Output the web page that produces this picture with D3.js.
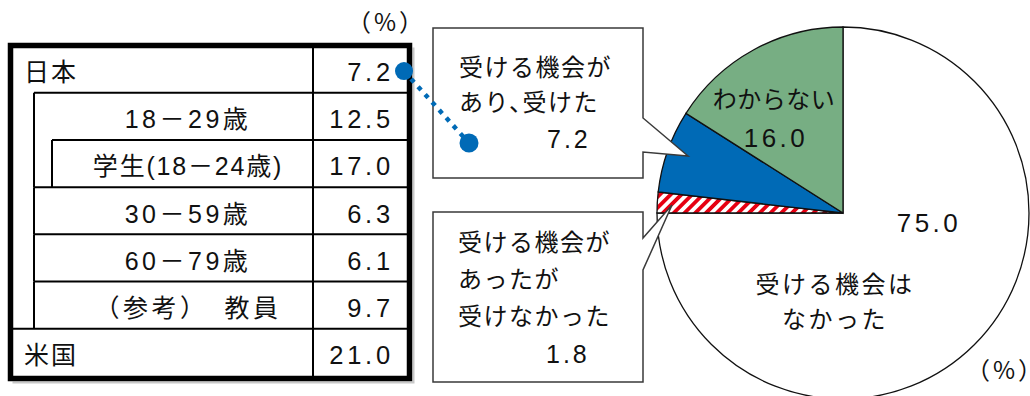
<!DOCTYPE html>
<html><head><meta charset="utf-8">
<script src="https://cdn.jsdelivr.net/npm/d3@7"></script>
<style>body{margin:0;background:#fff} svg{display:block}</style>
</head><body>
<script>
// ---- data ----
const rowLabels = ["日本", "18－29歳", "学生(18－24歳)", "30－59歳", "60－79歳", "（参考）　教員", "米国"];
const rowLevels = [0, 1, 2, 1, 1, 1, 0];
const rowValues = [7.2, 12.5, 17.0, 6.3, 6.1, 9.7, 21.0];
const pieCategories = ["受ける機会はなかった", "受ける機会があったが受けなかった", "受ける機会があり、受けた", "わからない"];
const pieValues = [75.0, 1.8, 7.2, 16.0];
const unitLabel = "（%）";

// ---- drawing ----
const W = 1030, H = 396;
const JP = "'Noto Sans CJK JP', sans-serif";
const NUM = "'Liberation Sans', 'Noto Sans CJK JP', sans-serif";
const fmt = d3.format(".1f");

const svg = d3.select("body").append("svg").attr("width", W).attr("height", H);
const defs = svg.append("defs");
const pat = defs.append("pattern").attr("id", "hatch").attr("patternUnits", "userSpaceOnUse")
  .attr("width", 7.6).attr("height", 7.6).attr("patternTransform", "rotate(45)");
pat.append("rect").attr("width", 7.6).attr("height", 7.6).attr("fill", "#fff");
pat.append("rect").attr("width", 3.8).attr("height", 7.6).attr("fill", "#E60012");

// Table
const tL = 10.5, tR = 409.5, tT = 45.5, tB = 378.5, divX = 313;
const indentX = [tL, 34, 52];
const y = d3.scaleBand().domain(d3.range(rowLabels.length)).range([tT, 376]);
const tbl = svg.append("g");

// light shadow
tbl.append("path").attr("d", `M${tL + 2},${tB + 4} H${tR + 4} V${tT + 2}`)
  .attr("fill", "none").attr("stroke", "#c8c8c8").attr("stroke-width", 2);

rowLabels.forEach((lab, i) => {
  const yt = y(i), yb = yt + y.bandwidth();
  if (i > 0) {
    tbl.append("line").attr("x1", indentX[rowLevels[i]]).attr("x2", tR)
      .attr("y1", yt).attr("y2", yt).attr("stroke", "#000").attr("stroke-width", 2);
  }
  for (let l = 1; l <= rowLevels[i]; l++) {
    tbl.append("line").attr("x1", indentX[l]).attr("x2", indentX[l])
      .attr("y1", yt).attr("y2", yb).attr("stroke", "#000").attr("stroke-width", 2);
  }
  const base = yt + 35.5;
  const ls = rowLevels[i] === 0 ? 2 : (rowLevels[i] === 2 ? 1.8 : 3.5);
  const t = tbl.append("text").attr("y", base).attr("font-family", NUM).attr("font-size", 25)
    .attr("letter-spacing", ls).attr("fill", "#111");
  if (rowLevels[i] === 0) t.attr("x", 24).text(lab);
  else t.attr("x", 188).attr("text-anchor", "middle").text(lab);
  tbl.append("text").attr("x", 394).attr("y", base).attr("text-anchor", "end")
    .attr("font-family", NUM).attr("font-size", 25.5).attr("letter-spacing", 3.8).attr("fill", "#111")
    .text(fmt(rowValues[i]));
});
tbl.append("line").attr("x1", divX).attr("x2", divX).attr("y1", tT).attr("y2", tB)
  .attr("stroke", "#000").attr("stroke-width", 2);
tbl.append("rect").attr("x", tL).attr("y", tT).attr("width", tR - tL).attr("height", tB - tT)
  .attr("fill", "none").attr("stroke", "#000").attr("stroke-width", 5.5);

function unit(x, yb) {
  const t = svg.append("text").attr("x", x).attr("y", yb).attr("text-anchor", "end")
    .attr("font-family", JP).attr("font-size", 24)
    .style("font-feature-settings", "'halt'").attr("fill", "#111");
  t.append("tspan").attr("letter-spacing", 3).text(unitLabel.slice(0, -1));
  t.append("tspan").attr("letter-spacing", 0).text(unitLabel.slice(-1));
}
unit(411, 31);

// Pie
const cx = 843, cy = 213, R = 186;
const pie = d3.pie().sort(null).value(d => d)(pieValues);
const arc = d3.arc().innerRadius(0).outerRadius(R);
const fills = ["#ffffff", "url(#hatch)", "#006AB6", "#77AE83"];
const pg = svg.append("g").attr("transform", `translate(${cx},${cy})`);
pg.selectAll("path").data(pie).join("path").attr("d", arc)
  .attr("fill", (d, i) => fills[i]).attr("stroke", "#111").attr("stroke-width", 1.3);

function lines(g, arr, x, y0, dy, opts) {
  arr.forEach((s, k) => {
    g.append("text").attr("x", x).attr("y", y0 + k * dy).attr("font-family", opts.ff || JP)
      .attr("font-size", opts.fs || 24).attr("letter-spacing", opts.ls ?? 2)
      .attr("text-anchor", opts.anchor || "start").attr("fill", "#111").text(s);
  });
}
// pie labels
lines(svg, ["わからない"], 774, 108, 0, {anchor: "middle", ls: 0.5});
lines(svg, [fmt(pieValues[3])], 776, 147, 0, {anchor: "middle", ff: NUM, fs: 26, ls: 3.5});
lines(svg, [fmt(pieValues[0])], 929, 232, 0, {anchor: "middle", ff: NUM, fs: 26, ls: 3.5});
lines(svg, ["受ける機会は", "なかった"], 835, 293, 35, {anchor: "middle", ls: 2.5});
unit(1030, 379);

// Callouts
const cg = svg.append("g");
cg.append("path").attr("d", "M433,28 H643 V118 L688,156 L643,152 V178 H433 Z")
  .attr("fill", "#fff").attr("stroke", "#3a3a3a").attr("stroke-width", 1.5);
cg.append("path").attr("d", "M433,212 H643 V238 L672,205 L643,270 V382 H433 Z")
  .attr("fill", "#fff").attr("stroke", "#3a3a3a").attr("stroke-width", 1.5);

lines(cg, ["受ける機会が"], 459, 76, 0, {ls: 1.5});
cg.append("text").attr("x", 459).attr("y", 111).attr("font-family", JP).attr("font-size", 24)
  .attr("letter-spacing", 1.5).attr("fill", "#111")
  .style("font-feature-settings", "'halt'").text("あり、受けた");
lines(cg, [fmt(pieValues[2])], 547, 148, 0, {ff: NUM, fs: 25, ls: 3});

lines(cg, ["受ける機会が", "あったが", "受けなかった"], 458, 251, 37, {ls: 1.5});
lines(cg, [fmt(pieValues[1])], 546, 363, 0, {ff: NUM, fs: 25, ls: 3});

// connector dots
const d1 = [404, y(0) + y.bandwidth() / 2 + 2], d2 = [469, 143];
svg.append("line").attr("x1", d1[0]).attr("y1", d1[1]).attr("x2", d2[0]).attr("y2", d2[1])
  .attr("stroke", "#006AB6").attr("stroke-width", 4.5).attr("stroke-dasharray", "4.5 6");
svg.append("circle").attr("cx", d1[0]).attr("cy", d1[1]).attr("r", 9).attr("fill", "#006AB6");
svg.append("circle").attr("cx", d2[0]).attr("cy", d2[1]).attr("r", 9.5).attr("fill", "#006AB6");
</script>
</body></html>
